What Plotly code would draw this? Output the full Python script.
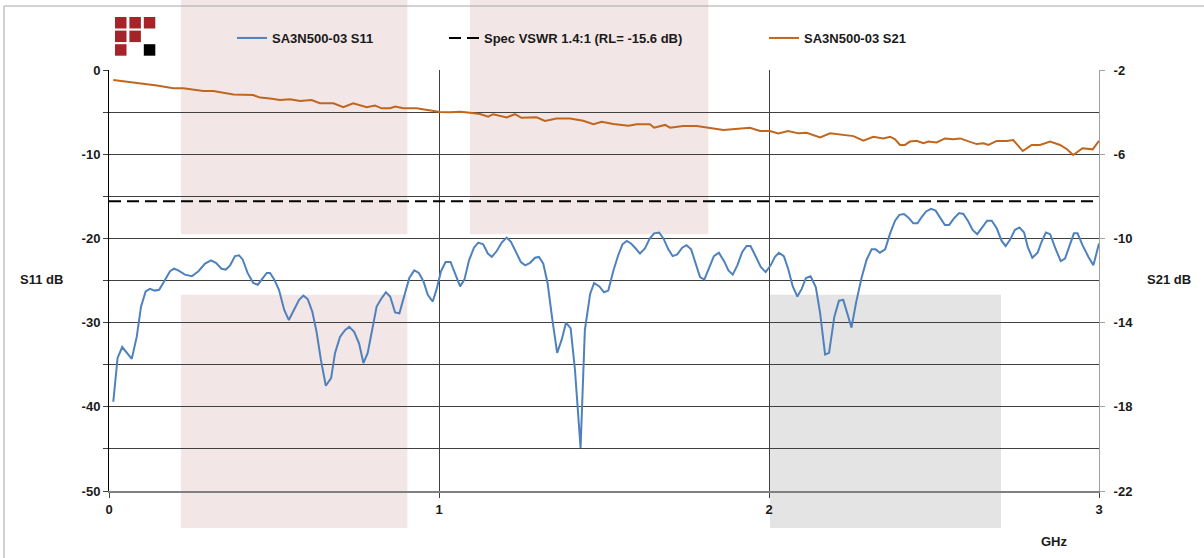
import plotly.graph_objects as go

# ---------------- data ----------------
s11_freq = [0.013, 0.026, 0.040, 0.069, 0.084, 0.097, 0.111, 0.124, 0.139, 0.152, 0.170, 0.185, 0.197, 0.210,
            0.230, 0.251, 0.271, 0.291, 0.309, 0.324, 0.341, 0.354, 0.367, 0.382, 0.394, 0.405, 0.420, 0.437,
            0.451, 0.465, 0.478, 0.488, 0.501, 0.515, 0.531, 0.545, 0.562, 0.576, 0.589, 0.602, 0.616, 0.629,
            0.642, 0.657, 0.673, 0.685, 0.700, 0.715, 0.728, 0.743, 0.758, 0.771, 0.784, 0.798, 0.811, 0.826,
            0.839, 0.852, 0.867, 0.880, 0.895, 0.910, 0.925, 0.939, 0.953, 0.966, 0.981, 0.993, 1.006, 1.020,
            1.035, 1.048, 1.064, 1.077, 1.091, 1.106, 1.119, 1.134, 1.148, 1.160, 1.175, 1.190, 1.205, 1.218,
            1.232, 1.248, 1.261, 1.276, 1.291, 1.303, 1.316, 1.329, 1.343, 1.358, 1.372, 1.385, 1.399, 1.412,
            1.429, 1.442, 1.458, 1.470, 1.486, 1.500, 1.513, 1.528, 1.543, 1.556, 1.569, 1.582, 1.596, 1.609,
            1.624, 1.639, 1.652, 1.667, 1.680, 1.695, 1.708, 1.722, 1.737, 1.750, 1.764, 1.778, 1.791, 1.804,
            1.818, 1.833, 1.848, 1.864, 1.877, 1.890, 1.904, 1.919, 1.932, 1.944, 1.958, 1.975, 1.990, 2.005,
            2.018, 2.030, 2.045, 2.058, 2.072, 2.086, 2.099, 2.112, 2.126, 2.142, 2.155, 2.170, 2.182, 2.198,
            2.212, 2.225, 2.238, 2.250, 2.264, 2.281, 2.296, 2.311, 2.323, 2.336, 2.352, 2.367, 2.382, 2.395,
            2.409, 2.422, 2.437, 2.450, 2.462, 2.476, 2.491, 2.505, 2.518, 2.533, 2.546, 2.561, 2.576, 2.589,
            2.604, 2.617, 2.631, 2.646, 2.661, 2.675, 2.690, 2.705, 2.717, 2.730, 2.745, 2.759, 2.773, 2.784,
            2.798, 2.814, 2.826, 2.839, 2.852, 2.867, 2.884, 2.897, 2.912, 2.924, 2.935, 2.950, 2.968, 2.983,
            3.000]
s11_db = [-39.4, -34.2, -32.9, -34.3, -31.7, -28.1, -26.3, -26.0, -26.2, -26.1, -24.9, -23.9, -23.6, -23.8,
          -24.3, -24.5, -23.9, -23.0, -22.6, -22.9, -23.6, -23.7, -23.2, -22.1, -22.0, -22.5, -24.1, -25.3,
          -25.5, -24.7, -24.1, -24.1, -24.9, -26.1, -28.5, -29.7, -28.3, -27.3, -26.8, -27.2, -28.7, -31.1,
          -34.4, -37.5, -36.6, -33.6, -31.7, -30.9, -30.5, -31.1, -32.5, -34.8, -33.6, -30.5, -28.1, -27.1,
          -26.4, -26.9, -28.8, -28.9, -26.8, -24.7, -23.8, -24.1, -25.1, -26.7, -27.5, -26.0, -23.9, -22.8,
          -22.8, -24.1, -25.7, -24.9, -22.6, -21.1, -20.5, -20.7, -21.8, -22.2, -21.5, -20.5, -19.9, -20.4,
          -21.6, -22.8, -23.2, -22.9, -22.3, -22.2, -23.0, -25.3, -29.5, -33.6, -32.0, -30.0, -30.7, -35.6,
          -44.9, -30.9, -26.6, -25.3, -25.7, -26.4, -26.2, -23.9, -22.0, -20.7, -20.3, -20.6, -21.2, -21.8,
          -21.2, -20.0, -19.4, -19.3, -20.0, -21.3, -22.1, -21.9, -21.1, -20.8, -21.3, -23.0, -24.6, -24.9,
          -23.6, -22.1, -21.7, -22.7, -23.8, -24.3, -23.2, -21.6, -20.9, -20.9, -22.0, -23.4, -24.0, -23.2,
          -22.2, -21.7, -22.1, -23.6, -25.7, -26.9, -26.0, -24.7, -24.5, -25.8, -28.9, -33.8, -33.6, -29.3,
          -27.4, -27.3, -29.0, -30.6, -27.6, -24.6, -22.5, -21.3, -21.3, -21.7, -21.3, -19.4, -17.9, -17.2,
          -17.1, -17.5, -18.2, -18.2, -17.5, -16.8, -16.5, -16.7, -17.5, -18.4, -18.4, -17.6, -17.0, -17.1,
          -18.0, -19.0, -19.5, -18.7, -17.9, -17.9, -18.8, -20.3, -20.9, -20.2, -19.0, -18.7, -19.3, -21.0,
          -22.3, -21.7, -20.4, -19.3, -19.5, -21.1, -22.7, -22.4, -20.8, -19.4, -19.4, -20.8, -22.2, -23.2,
          -20.6]

s21_freq = [0.013, 0.054, 0.094, 0.145, 0.195, 0.225, 0.286, 0.316, 0.377, 0.437, 0.458, 0.488, 0.518, 0.548,
            0.579, 0.614, 0.639, 0.680, 0.710, 0.740, 0.781, 0.806, 0.826, 0.852, 0.867, 0.892, 0.932, 0.973,
            1.003, 1.033, 1.064, 1.094, 1.124, 1.149, 1.164, 1.205, 1.230, 1.250, 1.296, 1.321, 1.356, 1.397,
            1.437, 1.468, 1.493, 1.528, 1.574, 1.599, 1.639, 1.652, 1.685, 1.700, 1.740, 1.781, 1.826, 1.862,
            1.942, 1.973, 2.003, 2.028, 2.058, 2.089, 2.114, 2.155, 2.185, 2.225, 2.256, 2.286, 2.316, 2.346,
            2.367, 2.382, 2.397, 2.412, 2.427, 2.447, 2.468, 2.483, 2.508, 2.533, 2.558, 2.579, 2.604, 2.629,
            2.650, 2.665, 2.690, 2.720, 2.740, 2.751, 2.769, 2.796, 2.821, 2.852, 2.882, 2.902, 2.922, 2.950,
            2.981, 3.000]
s21_db = [-2.48, -2.56, -2.63, -2.74, -2.87, -2.87, -3.00, -3.00, -3.16, -3.19, -3.31, -3.35, -3.43, -3.39,
          -3.47, -3.43, -3.58, -3.58, -3.77, -3.58, -3.77, -3.69, -3.82, -3.82, -3.74, -3.82, -3.82, -3.92,
          -4.00, -4.01, -3.98, -4.03, -4.09, -4.22, -4.10, -4.25, -4.10, -4.27, -4.25, -4.42, -4.30, -4.30,
          -4.41, -4.57, -4.46, -4.57, -4.65, -4.58, -4.58, -4.74, -4.61, -4.74, -4.66, -4.66, -4.77, -4.85,
          -4.74, -4.90, -4.90, -5.01, -4.90, -5.01, -4.98, -5.20, -5.01, -5.09, -5.14, -5.36, -5.17, -5.25,
          -5.17, -5.29, -5.56, -5.56, -5.40, -5.36, -5.48, -5.40, -5.44, -5.25, -5.29, -5.25, -5.40, -5.52,
          -5.48, -5.56, -5.37, -5.37, -5.33, -5.52, -5.85, -5.56, -5.56, -5.40, -5.56, -5.75, -6.04, -5.72,
          -5.77, -5.36]

spec_freq = [0, 3]
spec_rl = [-15.6, -15.6]

# shaded frequency bands (GHz) and their dB extents on the S11 axis
band_f0 = [0.218, 0.218, 1.094, 2.003]
band_f1 = [0.904, 0.904, 1.816, 2.703]
band_db_top = [8.3, -26.7, 8.3, -26.7]
band_db_bot = [-19.5, -54.4, -19.5, -54.4]
band_color = ["#F2E6E6", "#F2E6E6", "#F2E6E6", "#E4E4E4"]

names = ["SA3N500-03 S11", "Spec VSWR 1.4:1 (RL= -15.6 dB)", "SA3N500-03 S21"]

x_ticks = [0, 1, 2, 3]
y1_ticks = [0, -10, -20, -30, -40, -50]
y2_ticks = [-2, -6, -10, -14, -18, -22]
y1_range = [-50, 0]
y2_range = [-22, -2]

# ---------------- layout geometry ----------------
W, H = 1204, 558
ML, MR, MT, MB = 109, 105, 70, 67
PW, PH = W - ML - MR, H - MT - MB


def px_x(px):
    return (px - ML) / PW


def px_y(py):
    return (H - MB - py) / PH


def db_to_paper(v):
    return (v - y1_range[0]) / (y1_range[1] - y1_range[0])


FONT = "Liberation Sans, Arial, sans-serif"
TXT = "#1a1a1a"

fig = go.Figure()
fig.add_trace(go.Scatter(x=s11_freq, y=s11_db, mode="lines", name=names[0],
                         line=dict(color="#4F81BD", width=2), legend="legend"))
fig.add_trace(go.Scatter(x=spec_freq, y=spec_rl, mode="lines", name=names[1],
                         line=dict(color="#000000", width=2, dash="12px,6px"), legend="legend2"))
fig.add_trace(go.Scatter(x=s21_freq, y=s21_db, mode="lines", name=names[2], yaxis="y2",
                         line=dict(color="#C0661E", width=2), legend="legend3"))

shapes = []
for f0, f1, t, b, c in zip(band_f0, band_f1, band_db_top, band_db_bot, band_color):
    shapes.append(dict(type="rect", xref="x", yref="paper", x0=f0, x1=f1,
                       y0=db_to_paper(b), y1=db_to_paper(t), fillcolor=c,
                       line=dict(width=0), layer="below"))

# outer chart border
shapes.append(dict(type="rect", xref="paper", yref="paper", x0=px_x(4), x1=px_x(1212),
                   y0=px_y(562), y1=px_y(6), line=dict(color="#A6A6A6", width=1),
                   fillcolor="rgba(0,0,0,0)", layer="below"))

# logo (3x3 grid of squares)
logo_cells = [(0, 0, "#A4242A"), (0, 1, "#A4242A"), (0, 2, "#A4242A"),
              (1, 0, "#A4242A"), (1, 1, "#A4242A"),
              (2, 0, "#A4242A"), (2, 2, "#000000")]
for r, c, col in logo_cells:
    x0 = 115 + c * 14.4
    y0 = 17 + r * 13.6
    shapes.append(dict(type="rect", xref="paper", yref="paper",
                       x0=px_x(x0), x1=px_x(x0 + 11.5), y0=px_y(y0 + 11.5), y1=px_y(y0),
                       fillcolor=col, line=dict(width=0), layer="above"))

legend_font = dict(family=FONT, size=13, color=TXT, weight="bold")


def leg(px_left):
    return dict(x=px_x(px_left), y=px_y(38), xanchor="left", yanchor="middle",
                orientation="h", font=legend_font, bgcolor="rgba(0,0,0,0)",
                borderwidth=0, itemwidth=30)


tick_font = dict(family=FONT, size=13, color=TXT, weight="bold")
title_font = dict(family=FONT, size=13, color=TXT, weight="bold")

fig.update_layout(
    width=W, height=H,
    margin=dict(l=ML, r=MR, t=MT, b=MB, pad=0),
    paper_bgcolor="white", plot_bgcolor="rgba(0,0,0,0)",
    font=dict(family=FONT, size=13, color=TXT),
    showlegend=True,
    legend=leg(232), legend2=leg(444), legend3=leg(764),
    shapes=shapes,
    xaxis=dict(range=[0, 3], tickmode="array", tickvals=x_ticks, ticktext=[str(v) for v in x_ticks],
               showgrid=True, gridcolor="#404040", gridwidth=1, zeroline=False,
               showline=True, linecolor="#808080", linewidth=2,
               ticks="outside", ticklen=5, tickcolor="#404040", tickfont=tick_font),
    yaxis=dict(range=y1_range, tickmode="array", tickvals=y1_ticks, ticktext=[str(v) for v in y1_ticks],
               showgrid=True, gridcolor="#404040", gridwidth=1,
               zeroline=False, showline=True, linecolor="#000000", linewidth=1,
               ticks="outside", ticklen=5, tickcolor="#404040", tickfont=tick_font,
               minor=dict(dtick=5, tick0=0, showgrid=True, gridcolor="#404040", gridwidth=1,
                          ticks="outside", ticklen=5, tickcolor="#404040")),
    yaxis2=dict(range=y2_range, tickmode="array", tickvals=y2_ticks, ticktext=[str(v) for v in y2_ticks],
                overlaying="y", side="right",
                showgrid=False, zeroline=False, showline=True, linecolor="#A0A0A0", linewidth=1,
                ticks="outside", ticklen=5, tickcolor="#A0A0A0", tickfont=tick_font,
                ticklabelstandoff=6),
    annotations=[
        dict(text="S11 dB", xref="paper", yref="paper", x=px_x(41), y=px_y(279),
             xanchor="center", yanchor="middle", showarrow=False, font=title_font),
        dict(text="S21 dB", xref="paper", yref="paper", x=px_x(1169), y=px_y(279),
             xanchor="center", yanchor="middle", showarrow=False, font=title_font),
        dict(text="GHz", xref="paper", yref="paper", x=px_x(1054), y=px_y(541),
             xanchor="center", yanchor="middle", showarrow=False, font=title_font),
    ],
)

fig.write_html("out.html", config={"displayModeBar": False},
               post_script="document.body.style.margin='0';document.body.style.overflow='hidden';")
